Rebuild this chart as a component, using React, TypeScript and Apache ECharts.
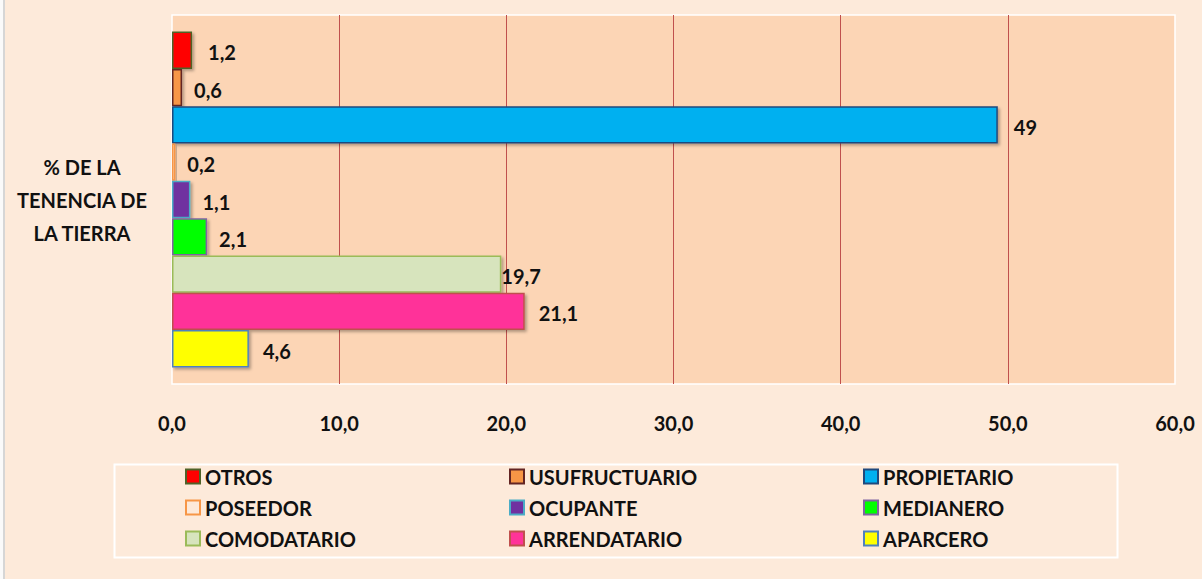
import React, { useEffect, useRef } from "react";
import * as echarts from "echarts";

const category = ["% DE LA\nTENENCIA DE\nLA TIERRA"];
const seriesNames = ["OTROS", "USUFRUCTUARIO", "PROPIETARIO", "POSEEDOR", "OCUPANTE", "MEDIANERO", "COMODATARIO", "ARRENDATARIO", "APARCERO"];
const seriesValues = [1.2, 0.6, 49.4, 0.2, 1.1, 2.1, 19.7, 21.1, 4.6];
const labelTexts = ["1,2", "0,6", "49", "0,2", "1,1", "2,1", "19,7", "21,1", "4,6"];
const fillColors = ["#FF0000", "#F79646", "#00B0F0", "#FDE9D9", "#7030A0", "#00FF00", "#D7E4BD", "#FF3399", "#FFFF00"];
const borderColors = ["#4F6228", "#632523", "#1F497D", "#F79646", "#4BACC6", "#8064A2", "#9BBB59", "#C0504D", "#4F81BD"];
const labelDistances = [16, 12, 16, 12, 12, 12, 0, 14, 14];
const xTicks = { min: 0, max: 60, interval: 10 };
const legendColumns = [
  ["OTROS", "POSEEDOR", "COMODATARIO"],
  ["USUFRUCTUARIO", "OCUPANTE", "ARRENDATARIO"],
  ["PROPIETARIO", "MEDIANERO", "APARCERO"],
];
const legendLefts = [180, 504, 858];

const FONT = "Lato, 'Open Sans', sans-serif";

export default function App() {
  const ref = useRef<HTMLDivElement>(null);
  useEffect(() => {
    if (!ref.current) return;
    const chart = echarts.init(ref.current, null, { renderer: "svg" });
    const series = seriesNames.map((name, i) => ({
      name,
      type: "bar",
      data: [seriesValues[i]],
      barGap: "0%",
      barCategoryGap: "9%",
      itemStyle: {
        color: fillColors[i],
        borderColor: borderColors[i],
        borderWidth: 1.5,
        shadowBlur: 3,
        shadowOffsetX: 2,
        shadowOffsetY: 2,
        shadowColor: "rgba(0,0,0,0.3)",
      },
      label: {
        show: true,
        position: "right",
        distance: labelDistances[i],
        formatter: () => labelTexts[i],
        fontFamily: FONT,
        fontWeight: "bold",
        fontSize: 20,
        color: "#111",
        offset: [0, 2],
      },
    }));
    chart.setOption({
      animation: false,
      backgroundColor: "#FDEADA",
      textStyle: { fontFamily: FONT },
      grid: {
        left: 172,
        right: 27,
        top: 15,
        bottom: 195,
        show: true,
        backgroundColor: "#FCD5B5",
        borderColor: "#FFFFFF",
        borderWidth: 1.5,
      },
      xAxis: {
        type: "value",
        min: xTicks.min,
        max: xTicks.max,
        interval: xTicks.interval,
        axisLine: { show: false },
        axisTick: { show: false },
        splitLine: {
          show: true,
          showMinLine: false,
          showMaxLine: false,
          lineStyle: { color: "#C0504D", width: 1 },
        },
        axisLabel: {
          margin: 29,
          fontFamily: FONT,
          fontWeight: "bold",
          fontSize: 20,
          color: "#111",
          formatter: (v: number) => v.toFixed(1).replace(".", ","),
        },
      },
      yAxis: {
        type: "category",
        data: category,
        inverse: true,
        axisLine: { show: false },
        axisTick: { show: false },
        axisLabel: {
          margin: 90,
          align: "center",
          fontFamily: FONT,
          fontWeight: "bold",
          fontSize: 20,
          lineHeight: 33,
          color: "#111",
        },
      },
      legend: legendColumns.map((col, k) => ({
        data: col,
        orient: "vertical",
        left: legendLefts[k],
        top: 460,
        itemWidth: 14,
        itemHeight: 14,
        itemGap: 8,
        icon: "rect",
        selectedMode: false,
        textStyle: {
          fontFamily: FONT,
          fontWeight: "bold",
          fontSize: 20,
          lineHeight: 23,
          color: "#111",
        },
      })),
      graphic: [
        {
          type: "rect",
          left: 112,
          top: 462,
          shape: { width: 1003, height: 93 },
          style: { fill: "none", stroke: "#FFFFFF", lineWidth: 2 },
          silent: true,
        },
        {
          type: "line",
          shape: { x1: 4, y1: 0, x2: 4, y2: 579 },
          style: { stroke: "#D6D6D6", lineWidth: 2 },
          silent: true,
        },
        {
          type: "rect",
          shape: { x: 0, y: 0, width: 3, height: 579 },
          style: { fill: "#FAFAFA" },
          silent: true,
        },
      ],
      series,
    });
    return () => chart.dispose();
  }, []);
  return (
    <div
      ref={ref}
      style={{ position: "absolute", left: 0, top: 0, width: 1202, height: 579 }}
    />
  );
}
